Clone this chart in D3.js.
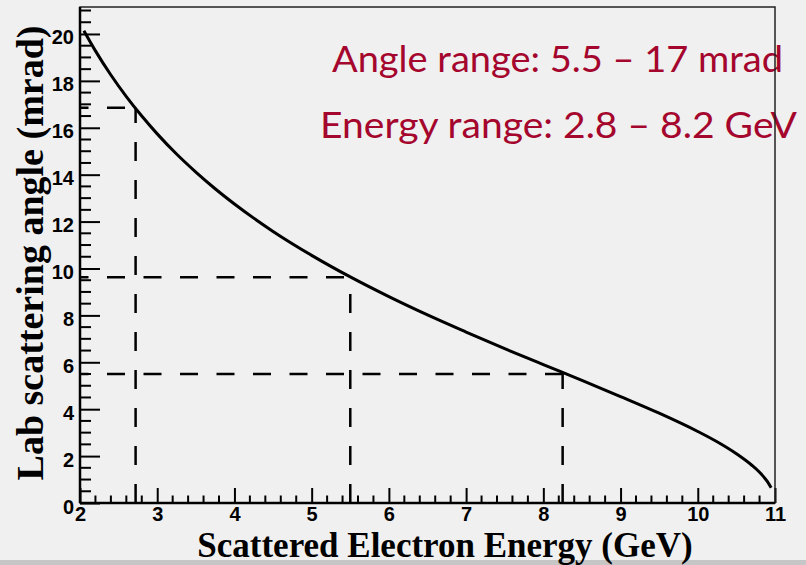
<!DOCTYPE html>
<html>
<head>
<meta charset="utf-8">
<script src="https://cdn.jsdelivr.net/npm/d3@7"></script>
<style>
  html, body { margin: 0; padding: 0; background: #f0f0f0; }
  svg { display: block; }
</style>
</head>
<body>
<svg id="chart" width="806" height="565"></svg>
<script>
// Scattered electron energy (GeV) and lab scattering angle (mrad) along the curve
const energyGeV = [2.05, 2.2, 2.4, 2.6, 2.8, 3.0, 3.25, 3.5, 3.75, 4.0, 4.5, 5.0, 5.5, 6.0,
                   6.5, 7.0, 7.5, 8.0, 8.5, 9.0, 9.5, 10.0, 10.25, 10.5, 10.7, 10.8, 10.9, 10.95];
const angleMrad = [20.14, 19.28, 18.25, 17.33, 16.50, 15.74, 14.88, 14.11, 13.40, 12.75, 11.58, 10.56, 9.64, 8.80,
                   8.02, 7.29, 6.58, 5.90, 5.23, 4.54, 3.83, 3.05, 2.61, 2.10, 1.61, 1.31, 0.92, 0.65];

// Guide points marked with dashed drop lines
const guideEnergy = [2.72, 5.5, 8.25];
const guideAngle = [16.85, 9.63, 5.5];

// Axis ticks
const xMajorTicks = [2, 3, 4, 5, 6, 7, 8, 9, 10, 11];
const yMajorTicks = [0, 2, 4, 6, 8, 10, 12, 14, 16, 18, 20];
const xMinorTicks = d3.range(2, 11.001, 0.2).map(v => +v.toFixed(1));
const yMinorTicks = d3.range(0, 21.001, 0.5);

// Annotation lines
const notes = ["Angle range: 5.5 \u2013 17 mrad", "Energy range: 2.8 \u2013 8.2 GeV"];

const svg = d3.select("#chart");
const W = 806, H = 565;
const frame = { left: 80, right: 775, top: 7, bottom: 503 };

svg.append("rect").attr("width", W).attr("height", H).attr("fill", "#f0f0f0");
svg.append("rect").attr("x", 0).attr("y", 560).attr("width", W).attr("height", 5).attr("fill", "#c6c6c6");

const x = d3.scaleLinear().domain([2, 11]).range([frame.left, frame.right]);
const y = d3.scaleLinear().domain([0, 21.15]).range([frame.bottom, frame.top]);

// Annotation text (drawn beneath the frame line)
const noteGeom = [
  { x: 332, y: 72, len: 451 },
  { x: 320, y: 138, len: 477 }
];
svg.selectAll("text.note").data(notes).join("text")
  .attr("class", "note")
  .attr("x", (d, i) => noteGeom[i].x)
  .attr("y", (d, i) => noteGeom[i].y)
  .attr("textLength", (d, i) => noteGeom[i].len)
  .attr("lengthAdjust", "spacingAndGlyphs")
  .attr("font-family", "Lato, 'Noto Sans', sans-serif")
  .attr("font-size", 37)
  .attr("fill", "#a5062d")
  .text(d => d);

// Dashed drop lines: horizontal from the y axis, vertical from the x axis
const guides = svg.append("g").attr("stroke", "#000").attr("stroke-width", 2.5).attr("fill", "none");
guideEnergy.forEach((e, i) => {
  guides.append("line")
    .attr("x1", x(2)).attr("x2", x(e))
    .attr("y1", y(guideAngle[i])).attr("y2", y(guideAngle[i]))
    .attr("stroke-dasharray", "18,18.5")
    .attr("stroke-dashoffset", 9.5);
  guides.append("line")
    .attr("x1", x(e)).attr("x2", x(e))
    .attr("y1", y(0)).attr("y2", y(guideAngle[i]))
    .attr("stroke-dasharray", "19,19");
});

// Curve
const pts = energyGeV.map((e, i) => [e, angleMrad[i]]);
svg.append("path")
  .datum(pts)
  .attr("fill", "none")
  .attr("stroke", "#000")
  .attr("stroke-width", 3)
  .attr("d", d3.line().x(d => x(d[0])).y(d => y(d[1])).curve(d3.curveMonotoneX));

// Minor ticks, pointing inward from the axes
const minor = svg.append("g").attr("stroke", "#000").attr("stroke-width", 2);
minor.selectAll("line.ym").data(yMinorTicks.filter(v => v % 2 !== 0)).join("line")
  .attr("class", "ym")
  .attr("x1", frame.left).attr("x2", frame.left + 11)
  .attr("y1", d => y(d)).attr("y2", d => y(d));
minor.selectAll("line.xm").data(xMinorTicks.filter(v => Math.abs(v - Math.round(v)) > 1e-6)).join("line")
  .attr("class", "xm")
  .attr("x1", d => x(d)).attr("x2", d => x(d))
  .attr("y1", frame.bottom).attr("y2", frame.bottom - 7.5);

// Major ticks and labels
const yMajor = svg.append("g").attr("transform", `translate(${frame.left},0)`)
  .call(d3.axisLeft(y).tickValues(yMajorTicks).tickSize(-20).tickPadding(6).tickFormat(d3.format("d")));
const xMajor = svg.append("g").attr("transform", `translate(0,${frame.bottom})`)
  .call(d3.axisBottom(x).tickValues(xMajorTicks).tickSize(-15).tickPadding(6).tickFormat(d3.format("d")));

[yMajor, xMajor].forEach(g => {
  g.select(".domain").remove();
  g.selectAll(".tick line").attr("stroke", "#000").attr("stroke-width", 2);
  g.selectAll(".tick text")
    .attr("fill", "#000")
    .attr("font-family", "'Liberation Sans', Arial, sans-serif")
    .attr("font-weight", "bold")
    .attr("font-size", 20);
});
yMajor.selectAll(".tick text").attr("dy", "0.5em");
xMajor.selectAll(".tick text").attr("dy", "0.58em");

// Frame
svg.append("rect")
  .attr("x", frame.left).attr("y", frame.top)
  .attr("width", frame.right - frame.left).attr("height", frame.bottom - frame.top)
  .attr("fill", "none").attr("stroke", "#222").attr("stroke-width", 1.5);
svg.append("line").attr("x1", frame.left).attr("x2", frame.left).attr("y1", frame.top).attr("y2", frame.bottom)
  .attr("stroke", "#000").attr("stroke-width", 2.5);
svg.append("line").attr("x1", frame.left).attr("x2", frame.right).attr("y1", frame.bottom).attr("y2", frame.bottom)
  .attr("stroke", "#000").attr("stroke-width", 2.5);

// Axis titles
svg.append("text")
  .attr("x", 445).attr("y", 557)
  .attr("text-anchor", "middle")
  .attr("font-family", "'Liberation Serif', 'Times New Roman', serif")
  .attr("font-weight", "bold")
  .attr("font-size", 35)
  .attr("fill", "#000")
  .text("Scattered Electron Energy (GeV)");

svg.append("text")
  .attr("transform", "translate(43,253) rotate(-90)")
  .attr("text-anchor", "middle")
  .attr("font-family", "'Liberation Serif', 'Times New Roman', serif")
  .attr("font-weight", "bold")
  .attr("font-size", 38)
  .attr("fill", "#000")
  .text("Lab scattering angle (mrad)");
</script>
</body>
</html>
